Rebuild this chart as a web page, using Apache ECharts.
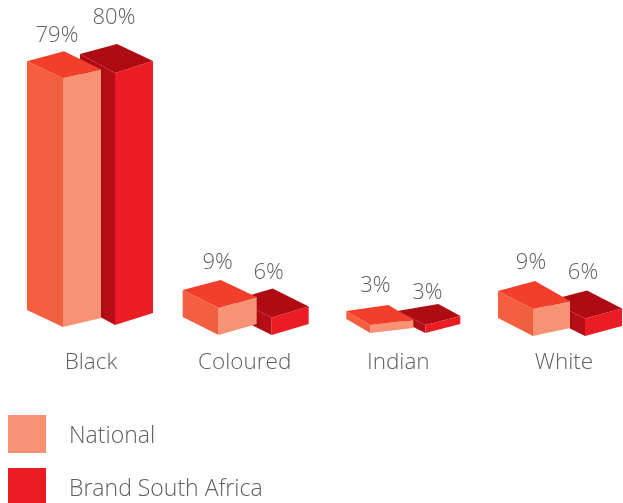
<!DOCTYPE html>
<html>
<head>
<meta charset="utf-8">
<script src="https://cdn.jsdelivr.net/npm/echarts@6/dist/echarts.min.js"></script>
<style>
  html, body { margin: 0; padding: 0; background: #fff; }
  #chart { width: 623px; height: 503px; }
</style>
</head>
<body>
<div id="chart"></div>
<script>
const categories = ['Black', 'Coloured', 'Indian', 'White'];
const nationalValues = [79, 9, 3, 9];
const brandValues = [80, 6, 3, 6];
const seriesNames = ['National', 'Brand South Africa'];

const TEXT = '#5f6062';
const FONT = '"Open Sans", sans-serif';
const AXIS_MIN = 0.5;

const nationalPalette = {
  front: '#f79274',
  left: ['#f4603f', '#f0603e'],
  top: '#f23f2b'
};
const brandPalette = {
  front: '#ec1c24',
  left: ['#ad0c13', '#b50e16'],
  top: '#ae0c12'
};

// Per-bar projection of the box: front corner shift from the category centre,
// the three other footprint corners relative to the front one, and the label lift.
const nationalBoxes = [
  { dx: -26, dy: -8, left: [-36, -17], right: [38, -9], back: [1, -27], labelDx: -6, labelLift: 42 },
  { dx: -27, dy: 0, left: [-36, -18], right: [38, -11], back: [2, -28], labelDx: -1, labelLift: 45 },
  { dx: -32, dy: -2, left: [-24, -14], right: [43, -5], back: [18, -20], labelDx: 5, labelLift: 39 },
  { dx: -26, dy: 1, left: [-35, -18], right: [37, -8], back: [2, -28], labelDx: -2, labelLift: 46 }
];
const brandBoxes = [
  { dx: 26, dy: -10, left: [-35, -19], right: [38, -12], back: [2, -29], labelDx: -1, labelLift: 55 },
  { dx: 26, dy: 0, left: [-36, -18], right: [37, -11], back: [1, -29], labelDx: -3, labelLift: 45 },
  { dx: 23, dy: -2, left: [-28, -14], right: [35, -9], back: [13, -21], labelDx: 2, labelLift: 32 },
  { dx: 26, dy: 1, left: [-36, -18], right: [37, -10], back: [2, -28], labelDx: -2, labelLift: 46 }
];

// Shifts the axis text so each name sits under its own group of boxes.
const labelShift = [2, -1, -4, 5];

function faceGradient(stops) {
  return {
    type: 'linear', x: 0, y: 0, x2: 1, y2: 0,
    colorStops: [
      { offset: 0, color: stops[0] },
      { offset: 0.68, color: stops[0] },
      { offset: 0.68, color: stops[1] },
      { offset: 1, color: stops[1] }
    ]
  };
}

function boxRenderer(boxes, palette) {
  return function (params, api) {
    const idx = api.value(0);
    const value = api.value(1);
    const box = boxes[idx];
    const base = api.coord([idx, AXIS_MIN]);
    const peak = api.coord([idx, value]);
    const fx = base[0] + box.dx;
    const fy = base[1] + box.dy;
    const h = base[1] - peak[1];

    const offset = (corner, lift) => [fx + corner[0], fy + corner[1] - lift];
    const front0 = [fx, fy];
    const front1 = [fx, fy - h];
    const left0 = offset(box.left, 0);
    const left1 = offset(box.left, h);
    const right0 = offset(box.right, 0);
    const right1 = offset(box.right, h);
    const back1 = offset(box.back, h);

    const poly = (points, fill) => ({
      type: 'polygon',
      shape: { points },
      style: { fill, stroke: null },
      silent: true
    });

    return {
      type: 'group',
      children: [
        poly([left0, front0, front1, left1], faceGradient(palette.left)),
        poly([front0, right0, right1, front1], palette.front),
        poly([left1, front1, right1, back1], palette.top),
        {
          type: 'text',
          style: {
            text: value + '%',
            x: fx + box.labelDx,
            y: fy - h - box.labelLift,
            textAlign: 'center',
            textVerticalAlign: 'middle',
            fontFamily: FONT,
            fontWeight: 300,
            fontSize: 22,
            fill: TEXT
          },
          silent: true
        }
      ]
    };
  };
}

const axisRich = {};
labelShift.forEach((shift, i) => {
  axisRich['c' + i] = {
    fontFamily: FONT, fontWeight: 300, fontSize: 22.5, color: TEXT,
    padding: [0, shift < 0 ? -2 * shift : 0, 0, shift > 0 ? 2 * shift : 0]
  };
});

const chart = echarts.init(document.getElementById('chart'), null, { renderer: 'canvas' });
chart.setOption({
  animation: false,
  backgroundColor: '#ffffff',
  grid: { left: 89, right: 64, top: 81.4, bottom: 168 },
  xAxis: {
    type: 'category',
    data: categories,
    boundaryGap: false,
    axisLine: { show: false },
    axisTick: { show: false },
    axisLabel: {
      margin: 16,
      interval: 0,
      hideOverlap: false,
      formatter: (name, i) => '{c' + i + '|' + name + '}',
      rich: axisRich
    }
  },
  yAxis: {
    type: 'value',
    min: AXIS_MIN,
    max: 80.5,
    show: false,
    splitLine: { show: false }
  },
  legend: {
    orient: 'vertical',
    left: 8,
    top: 415,
    width: 400,
    height: 120,
    itemWidth: 38,
    itemHeight: 38,
    itemGap: 15,
    padding: 0,
    data: seriesNames,
    icon: 'rect',
    formatter: (name) => '{t|' + name + '}',
    textStyle: {
      rich: {
        t: { fontFamily: FONT, fontWeight: 300, fontSize: 23, color: TEXT, padding: [5, 0, 0, 18] }
      }
    }
  },
  series: [
    {
      name: seriesNames[1],
      type: 'custom',
      z: 2,
      itemStyle: { color: brandPalette.front },
      encode: { x: 0, y: 1 },
      data: brandValues.map((v, i) => [i, v]),
      renderItem: boxRenderer(brandBoxes, brandPalette)
    },
    {
      name: seriesNames[0],
      type: 'custom',
      z: 3,
      itemStyle: { color: nationalPalette.front },
      encode: { x: 0, y: 1 },
      data: nationalValues.map((v, i) => [i, v]),
      renderItem: boxRenderer(nationalBoxes, nationalPalette)
    }
  ]
});
</script>
</body>
</html>
